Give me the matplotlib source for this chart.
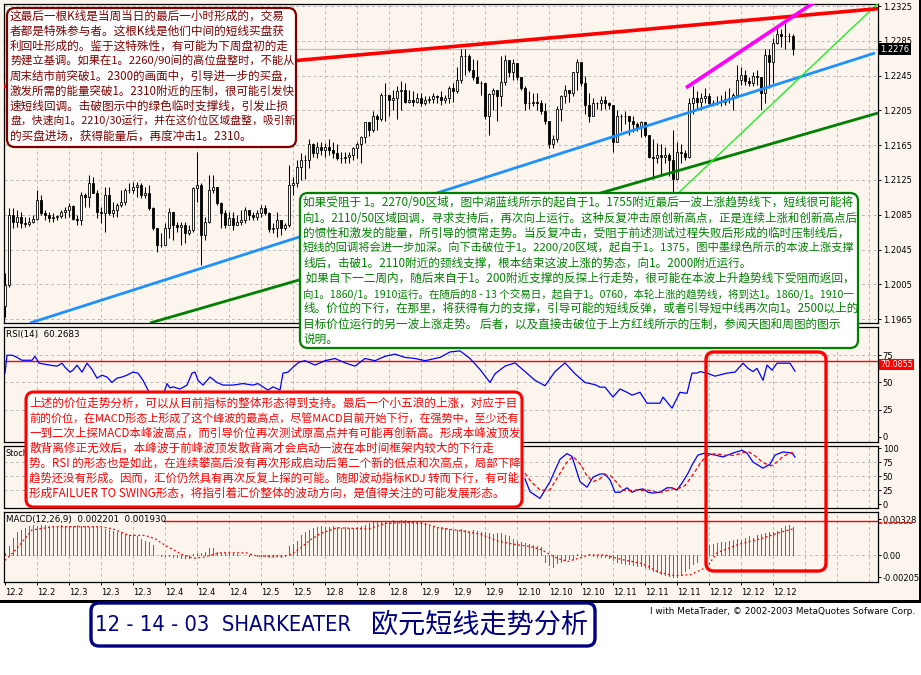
import numpy as np
import matplotlib
matplotlib.use('Agg')
import matplotlib.pyplot as plt
from matplotlib.patches import FancyBboxPatch, Rectangle
from matplotlib import font_manager

# ---------------- data (EURUSD H1) ----------------
open0 = 1.1980
high = [
    1.2018, 1.2093, 1.2093, 1.2090, 1.2088, 1.2082, 1.2082, 1.2085, 1.2113, 1.2108,
    1.2090, 1.2088, 1.2087, 1.2085, 1.2090, 1.2094, 1.2099, 1.2096, 1.2085, 1.2111,
    1.2110, 1.2131, 1.2128, 1.2113, 1.2094, 1.2117, 1.2117, 1.2100, 1.2099, 1.2113,
    1.2116, 1.2122, 1.2123, 1.2123, 1.2122, 1.2117, 1.2119, 1.2094, 1.2070, 1.2064,
    1.2076, 1.2093, 1.2088, 1.2077, 1.2077, 1.2077, 1.2073, 1.2117, 1.2157, 1.2122,
    1.2082, 1.2131, 1.2131, 1.2117, 1.2100, 1.2090, 1.2088, 1.2088, 1.2085, 1.2090,
    1.2094, 1.2090, 1.2088, 1.2090, 1.2096, 1.2096, 1.2088, 1.2076, 1.2088, 1.2079,
    1.2076, 1.2142, 1.2128, 1.2148, 1.2156,
    1.2154, 1.2172, 1.2168, 1.2169, 1.2169, 1.2168, 1.2172, 1.2169, 1.2166, 1.2157,
    1.2157, 1.2157, 1.2163, 1.2169, 1.2175, 1.2192, 1.2189, 1.2204, 1.2201, 1.2225,
    1.2237, 1.2221, 1.2229, 1.2233, 1.2239, 1.2237, 1.2229, 1.2227, 1.2225, 1.2225,
    1.2221, 1.2221, 1.2225, 1.2223,
    1.2227, 1.2223, 1.2233, 1.2237, 1.2255, 1.2275, 1.2276, 1.2270, 1.2264, 1.2263,
    1.2239, 1.2237, 1.2225, 1.2231, 1.2225, 1.2267, 1.2269, 1.2263, 1.2264, 1.2257,
    1.2243, 1.2233, 1.2227, 1.2225, 1.2225, 1.2217, 1.2213, 1.2193, 1.2177, 1.2210,
    1.2223, 1.2234, 1.2229, 1.2249, 1.2264, 1.2252, 1.2245, 1.2225, 1.2219, 1.2215,
    1.2221, 1.2221, 1.2215,
    1.2207, 1.2205, 1.2201, 1.2204, 1.2198, 1.2198, 1.2192, 1.2193, 1.2192, 1.2175,
    1.2172, 1.2168, 1.2166, 1.2163, 1.2156, 1.2183, 1.2169, 1.2166, 1.2160, 1.2219,
    1.2233, 1.2227, 1.2225, 1.2231, 1.2225, 1.2217, 1.2221, 1.2223, 1.2227, 1.2231,
    1.2225, 1.2257, 1.2255, 1.2252, 1.2243, 1.2249, 1.2251, 1.2237, 1.2276, 1.2276,
    1.2288, 1.2302, 1.2299, 1.2306, 1.2294, 1.2293,
]
low = [
    1.1967, 1.2002, 1.2070, 1.2071, 1.2070, 1.2071, 1.2072, 1.2076, 1.2079, 1.2085,
    1.2079, 1.2077, 1.2077, 1.2079, 1.2081, 1.2081, 1.2082, 1.2079, 1.2073, 1.2073,
    1.2094, 1.2094, 1.2110, 1.2081, 1.2076, 1.2065, 1.2085, 1.2082, 1.2082, 1.2094,
    1.2096, 1.2110, 1.2110, 1.2105, 1.2104, 1.2104, 1.2090, 1.2067, 1.2042, 1.2048,
    1.2056, 1.2058, 1.2056, 1.2065, 1.2050, 1.2053, 1.2062, 1.2065, 1.2100, 1.2027,
    1.2056, 1.2076, 1.2110, 1.2096, 1.2070, 1.2070, 1.2077, 1.2067, 1.2073, 1.2073,
    1.2076, 1.2079, 1.2079, 1.2079, 1.2082, 1.2085, 1.2065, 1.2064, 1.2059, 1.2062,
    1.2067, 1.2071, 1.2108, 1.2117, 1.2125,
    1.2126, 1.2139, 1.2151, 1.2150, 1.2154, 1.2151, 1.2154, 1.2150, 1.2148, 1.2145,
    1.2145, 1.2144, 1.2148, 1.2150, 1.2145, 1.2168, 1.2175, 1.2180, 1.2183, 1.2193,
    1.2193, 1.2198, 1.2205, 1.2195, 1.2205, 1.2213, 1.2213, 1.2210, 1.2213, 1.2210,
    1.2211, 1.2213, 1.2213, 1.2213,
    1.2211, 1.2213, 1.2213, 1.2215, 1.2225, 1.2237, 1.2246, 1.2249, 1.2240, 1.2237,
    1.2223, 1.2195, 1.2177, 1.2205, 1.2193, 1.2210, 1.2234, 1.2243, 1.2240, 1.2240,
    1.2229, 1.2205, 1.2207, 1.2210, 1.2205, 1.2201, 1.2189, 1.2162, 1.2162, 1.2169,
    1.2193, 1.2213, 1.2215, 1.2221, 1.2229, 1.2233, 1.2201, 1.2192, 1.2210, 1.2207,
    1.2205, 1.2207, 1.2207,
    1.2157, 1.2186, 1.2181, 1.2189, 1.2177, 1.2180, 1.2181, 1.2174, 1.2174, 1.2150,
    1.2126, 1.2145, 1.2130, 1.2144, 1.2130, 1.2103, 1.2130, 1.2145, 1.2148, 1.2150,
    1.2201, 1.2205, 1.2205, 1.2213, 1.2210, 1.2210, 1.2211, 1.2210, 1.2211, 1.2213,
    1.2205, 1.2223, 1.2234, 1.2234, 1.2233, 1.2233, 1.2234, 1.2205, 1.2213, 1.2231,
    1.2237, 1.2281, 1.2278, 1.2275, 1.2284, 1.2269,
]
close = [
    1.2004, 1.2085, 1.2077, 1.2082, 1.2076, 1.2074, 1.2077, 1.2080, 1.2102, 1.2087,
    1.2085, 1.2081, 1.2082, 1.2084, 1.2088, 1.2090, 1.2095, 1.2080, 1.2079, 1.2108,
    1.2105, 1.2122, 1.2110, 1.2088, 1.2087, 1.2108, 1.2087, 1.2090, 1.2096, 1.2100,
    1.2113, 1.2113, 1.2117, 1.2119, 1.2108, 1.2110, 1.2093, 1.2070, 1.2050, 1.2050,
    1.2070, 1.2088, 1.2073, 1.2071, 1.2073, 1.2064, 1.2067, 1.2116, 1.2119, 1.2062,
    1.2077, 1.2113, 1.2117, 1.2099, 1.2087, 1.2073, 1.2081, 1.2073, 1.2077, 1.2079,
    1.2090, 1.2085, 1.2082, 1.2087, 1.2093, 1.2087, 1.2069, 1.2070, 1.2079, 1.2070,
    1.2073, 1.2119, 1.2122, 1.2140, 1.2148,
    1.2148, 1.2166, 1.2156, 1.2163, 1.2160, 1.2163, 1.2160, 1.2156, 1.2150, 1.2150,
    1.2151, 1.2154, 1.2162, 1.2166, 1.2174, 1.2192, 1.2183, 1.2199, 1.2195, 1.2223,
    1.2223, 1.2217, 1.2219, 1.2227, 1.2229, 1.2215, 1.2217, 1.2215, 1.2219, 1.2213,
    1.2217, 1.2218, 1.2221, 1.2220,
    1.2217, 1.2219, 1.2231, 1.2227, 1.2240, 1.2267, 1.2267, 1.2252, 1.2243, 1.2237,
    1.2237, 1.2198, 1.2224, 1.2229, 1.2221, 1.2238, 1.2263, 1.2249, 1.2259, 1.2243,
    1.2231, 1.2213, 1.2213, 1.2215, 1.2213, 1.2204, 1.2193, 1.2166, 1.2172, 1.2207,
    1.2221, 1.2229, 1.2225, 1.2249, 1.2261, 1.2237, 1.2211, 1.2198, 1.2213, 1.2213,
    1.2217, 1.2213, 1.2211,
    1.2169, 1.2198, 1.2199, 1.2198, 1.2193, 1.2189, 1.2186, 1.2192, 1.2177, 1.2151,
    1.2150, 1.2154, 1.2151, 1.2154, 1.2148, 1.2126, 1.2157, 1.2156, 1.2151, 1.2213,
    1.2219, 1.2215, 1.2219, 1.2221, 1.2213, 1.2213, 1.2215, 1.2215, 1.2218, 1.2219,
    1.2223, 1.2240, 1.2246, 1.2239, 1.2237, 1.2244, 1.2243, 1.2225, 1.2269, 1.2261,
    1.2282, 1.2293, 1.2291, 1.2291, 1.2291, 1.2276,
]
last_price = 1.2276

# trend lines: (bar positions, prices)
red_line = ([-1.25, 220.75], [1.2232, 1.2323])
magenta_line = ([170.25, 203.25], [1.2231, 1.2332])
blue_line = ([6.25, 217.5], [1.19606, 1.2271])
darkgreen_line = ([36.25, 218.25], [1.19606, 1.2202])
lime_line = ([166.5, 218.0], [1.2102, 1.2327])

date_labels = ['12.2', '12.2', '12.3', '12.3', '12.3', '12.4', '12.4', '12.4', '12.5',
               '12.5', '12.8', '12.8', '12.8', '12.9', '12.9', '12.9', '12.10', '12.10',
               '12.10', '12.11', '12.11', '12.11', '12.12', '12.12', '12.12']

rsi_points = [
    (0, 58.6), (0.5, 75), (1.75, 75), (2.5, 74), (4.25, 70.4), (6.75, 70.4), (7.5, 74),
    (8.5, 67.7), (11.25, 65.9), (13, 65), (14.25, 67.7), (15, 64), (16.25, 59.5),
    (17, 61.3), (18, 65.9), (19.25, 59.5), (20.5, 67.7), (21.75, 62), (23, 54),
    (24.25, 56.7), (25.5, 55), (26.75, 50), (28, 54), (29.25, 55), (30.5, 56.7),
    (32, 59.5), (33.25, 58.6), (34.5, 52), (35.75, 43), (37, 37), (38.5, 34), (39.5, 38),
    (40.5, 49), (41.25, 45), (42, 46), (43.75, 44), (45.5, 47.6), (46.75, 58.6),
    (47.5, 59.5), (48.25, 52), (49.5, 47.6), (51.25, 55), (53, 50), (54.5, 47.6),
    (57, 47.6), (59.5, 49), (62, 47.6), (63.25, 49), (64.5, 46), (65.75, 43), (67, 46),
    (68.75, 43), (69.5, 58.6), (70.75, 59.5), (72, 64), (73.5, 68.6), (75, 70),
    (77.5, 66), (80, 70), (82.5, 72), (85, 68), (87.5, 65), (90, 72), (92.5, 70),
    (95, 74), (97.5, 76), (100, 73), (102.5, 72), (105, 70), (108.75, 73), (111.25, 78),
    (113.75, 79), (116.25, 72), (118.75, 62), (121.25, 50), (122.5, 58), (125, 65),
    (127.5, 68), (130, 60), (132.5, 52), (135, 47), (137.5, 60), (140, 68), (142.5, 58),
    (145, 50), (147.5, 48), (148.75, 45.7), (150, 45.7), (152, 36.6), (153.75, 44),
    (155.5, 41), (156.75, 38.4), (158.75, 41), (160.5, 31), (163.75, 31), (164.5, 36.6),
    (166.75, 26.5), (168.75, 41), (170.5, 40), (171.75, 58.6), (173, 58.6), (173.75, 60),
    (175.5, 58.6), (177.5, 55.8), (180.5, 58.6), (182.5, 59.5), (184.5, 67.7),
    (185.75, 63), (187, 60), (188, 63), (189.5, 52), (190.5, 66), (191.75, 61.3),
    (193, 67.7), (196.25, 67.7), (197.5, 60.3),
]
rsi_level = 70.0855

stoch_main = [
    (130, 45), (131.25, 22), (133.75, 10), (136.25, 40), (138.75, 80), (140.5, 90),
    (141.75, 85), (143.75, 40), (145.5, 30), (147, 48), (148.75, 53.6), (150, 53.6),
    (151.25, 43), (152.5, 21), (153.75, 21), (155.5, 29), (156.75, 21), (158, 25),
    (159.5, 27), (160.75, 21), (162, 19.6), (163.75, 21), (165.5, 29), (166.75, 29),
    (168, 25), (169.25, 37.5), (170.75, 55), (172, 73), (173.25, 87.5), (175, 91),
    (177.5, 87.5), (179.5, 84), (182, 91), (184.25, 96), (185.5, 91), (187, 75),
    (189.5, 64), (191.25, 71), (192.5, 87.5), (194.5, 93), (196.75, 91), (197.5, 84),
]
stoch_signal = [
    (130, 55), (131.5, 40), (133.75, 25), (136.25, 25), (138.75, 55), (140.5, 75),
    (142, 85), (144, 70), (145.5, 50), (147, 40), (148.75, 45), (150, 52), (151.5, 50),
    (153, 38), (154.5, 25), (156, 24), (157.5, 25), (159, 24), (160.75, 25), (162.5, 22),
    (164, 21), (165.5, 24), (167, 27), (168.5, 28), (170, 33), (171.25, 45), (172.5, 58),
    (174, 75), (175.5, 86), (177.5, 90), (180, 87), (182.5, 87), (184.5, 92), (186, 93),
    (187.5, 86), (189.5, 74), (191.5, 68), (193, 75), (194.5, 85), (196.5, 92),
    (197.5, 89),
]

macd = [
    0.0002, 0.0008, 0.0016, 0.0021, 0.0023, 0.0025,
    0.0027, 0.0028, 0.0027, 0.0028, 0.0028, 0.0027, 0.0027, 0.0027, 0.0028, 0.0027,
    0.0027, 0.0027, 0.0028, 0.0027, 0.0027, 0.0026, 0.0027,
    0.0026, 0.0025, 0.0024, 0.0023, 0.0022, 0.0021, 0.0020, 0.0019, 0.0018, 0.0018,
    0.0017, 0.0015, 0.0013, 0.0012, 0.0009,
    0.0000, -0.0001, -0.0001, -0.0001, -0.0002, -0.0002, -0.0003, -0.0003, -0.0003,
    0.0001, 0.0002, 0.0002, 0.0003, 0.0006, 0.0006, 0.0003, 0.0002, 0.0002, 0.0002, 0.0002,
    0.0001, 0.0000, 0.0000, -0.0001, 0.0000, -0.0001, -0.0001, -0.0001, -0.0002, -0.0002,
    -0.0001, -0.0002, -0.0001,
    0.0008, 0.0010, 0.0013, 0.0018, 0.0021, 0.0023, 0.0025, 0.0026,
    0.0027, 0.0026, 0.0026, 0.0027, 0.0026, 0.0025, 0.0026, 0.0025, 0.0025, 0.0026,
    0.0027, 0.0028, 0.0029, 0.0030,
    0.0030,
    0.0031, 0.0030, 0.0031, 0.0032, 0.0031, 0.0032, 0.0032, 0.0031, 0.0030, 0.0031,
    0.0030, 0.0029,
    0.0027, 0.0026, 0.0025, 0.0026, 0.0025,
    0.0024, 0.0023, 0.0023, 0.0024, 0.0023, 0.0022, 0.0023, 0.0022, 0.0021, 0.0021,
    0.0020, 0.0019, 0.0020, 0.0020, 0.0018, 0.0017,
    0.0015, 0.0013, 0.0012, 0.0011, 0.0010, 0.0009, 0.0008, 0.0007,
    -0.0006, -0.0009, -0.0011, -0.0007, -0.0006, -0.0005, -0.0004, -0.0004,
    0.0001, 0.0001, 0.0000, 0.0001,
    -0.0001, -0.0002, -0.0002, -0.0002, -0.0003, -0.0005, -0.0006, -0.0007, -0.0008,
    -0.0008, -0.0009, -0.0010, -0.0010,
    -0.0011, -0.0013, -0.0015, -0.0016, -0.0017, -0.0018, -0.0019, -0.0020, -0.0020,
    -0.0018, -0.0015, -0.0012, -0.0008, -0.0006, 0.0000,
    0.0007, 0.0009, 0.0010, 0.0011, 0.0012, 0.0012, 0.0013, 0.0014, 0.0015, 0.0014,
    0.0016, 0.0017, 0.0016, 0.0018, 0.0019, 0.0020, 0.0021, 0.0021, 0.0022, 0.0025,
    0.0027, 0.0028, 0.0026,
]
macd_signal = [
    (0, -0.0005), (2.75, 0.0005), (6.75, 0.0023), (12, 0.0026), (23, 0.0026),
    (24, 0.0026), (27, 0.0024), (31, 0.0018), (35, 0.0018), (37.5, 0.0015), (40, 0.0009),
    (44, 0.0001), (47, -0.0003), (49.6, -0.0002), (53.6, 0.0002), (60.3, 0.0002),
    (63, -0.0001), (69.7, -0.0001), (71.7, 0.0001), (73.7, 0.0006), (76.4, 0.0014),
    (79, 0.0020), (83, 0.0025), (91, 0.0024), (95, 0.0029), (100.5, 0.0030),
    (104.5, 0.0029), (108.5, 0.0025), (114.5, 0.0022), (119, 0.0019), (123, 0.0013),
    (127, 0.0010), (131, 0.0008), (134, 0.0005), (138, -0.0003), (140.7, -0.0006),
    (143.4, -0.0003), (146, 0.0000), (150, 0.0000), (154, -0.0004), (159.5, -0.0008),
    (163.5, -0.0016), (167.5, -0.0019), (171.5, -0.0018), (175.5, -0.0011),
    (178, 0.0002), (183.5, 0.0010), (189, 0.0015), (194, 0.0021), (197, 0.0024),
]
macd_level = 0.0031

box1_lines = [
    "这最后一根K线是当周当日的最后一小时形成的，交易",
    "者都是特殊参与者。这根K线是他们中间的短线买盘获",
    "利回吐形成的。鉴于这特殊性，有可能为下周盘初的走",
    "势建立基调。如果在1。2260/90间的高位盘整时，不能从",
    "周末结市前突破1。2300的画面中，引导进一步的买盘，",
    "激发所需的能量突破1。2310附近的压制，很可能引发快",
    "速短线回调。击破图示中的绿色临时支撑线，引发止损",
    "盘，快速向1。2210/30运行，并在这价位区域盘整，吸引新",
    "的买盘进场，获得能量后，再度冲击1。2310。",
]
box2_lines = [
    "如果受阻于 1。2270/90区域，图中湖蓝线所示的起自于1。1755附近最后一波上涨趋势线下，短线很可能将",
    "向1。2110/50区域回调，寻求支持后，再次向上运行。这种反复冲击原创新高点，正是连续上涨和创新高点后",
    "的惯性和激发的能量，所引导的惯常走势。当反复冲击，受阻于前述测试过程失败后形成的临时压制线后，",
    "短线的回调将会进一步加深。向下击破位于1。2200/20区域，起自于1。1375，图中墨绿色所示的本波上涨支撑",
    "线后，击破1。2110附近的颈线支撑，根本结束这波上涨的势态，向1。2000附近运行。",
    " 如果自下一二周内，随后来自于1。200附近支撑的反探上行走势，很可能在本波上升趋势线下受阻而返回，",
    "向1。1860/1。1910运行。在随后的8 - 13 个交易日，起自于1。0760，本轮上涨的趋势线，将到达1。1860/1。1910一",
    "线。价位的下行，在那里，将获得有力的支撑，引导可能的短线反弹，或者引导短中线再次向1。2500以上的",
    "目标价位运行的另一波上涨走势。 后者，以及直接击破位于上方红线所示的压制，参阅天图和周图的图示",
    "说明。",
]
box3_lines = [
    "上述的价位走势分析，可以从目前指标的整体形态得到支持。最后一个小五浪的上涨，对应于目",
    "前的价位，在MACD形态上形成了这个峰波的最高点，尽管MACD目前开始下行，在强势中，至少还有",
    "一到二次上探MACD本峰波高点，而引导价位再次测试原高点并有可能再创新高。形成本峰波顶发",
    "散背离修正无效后，本峰波于前峰波顶发散背离才会启动一波在本时间框架内较大的下行走",
    "势。RSI 的形态也是如此，在连续攀高后没有再次形成启动后第二个新的低点和次高点，局部下降",
    "趋势还没有形成。因而，汇价仍然具有再次反复上探的可能。随即波动指标KDJ 转而下行，有可能",
    "形成FAILUER TO SWING形态，将指引着汇价整体的波动方向，是值得关注的可能发展形态。",
]
title_left = "12 - 14 - 03  SHARKEATER"
title_right = "欧元短线走势分析"
credit = "l with MetaTrader, © 2002-2003 MetaQuotes Sofware Corp."

# ---------------- figure ----------------
W, H = 921, 675
BG = '#fbf5ee'
GRID = '#b9b9b9'
names = {f.name for f in font_manager.fontManager.ttflist}
narrow = 'Liberation Sans Narrow' if 'Liberation Sans Narrow' in names else None
CJK = ([narrow] if narrow else []) + ['Noto Sans CJK SC', 'DejaVu Sans']

fig = plt.figure(figsize=(W / 100, H / 100), dpi=100)
fig.patch.set_facecolor('white')


def rect(x0, y0, x1, y1):
    return [x0 / W, 1 - y1 / H, (x1 - x0) / W, (y1 - y0) / H]


fig.patches.append(Rectangle((0, 1 - 601 / H), 1, 601 / H, transform=fig.transFigure,
                             fc=BG, ec='none', zorder=-10))
fig.patches.append(Rectangle((0, 1 - 603 / H), 1, 3 / H, transform=fig.transFigure,
                             fc='black', ec='none', zorder=-9))
fig.patches.append(Rectangle((1 - 2 / W, 1 - 603 / H), 2 / W, 603 / H,
                             transform=fig.transFigure, fc='black', ec='none', zorder=-9))

X0, X1 = -0.25, 218.25
ax_p = fig.add_axes(rect(4, 4, 878, 323))
ax_r = fig.add_axes(rect(4, 327, 878, 442))
ax_s = fig.add_axes(rect(4, 446, 878, 508))
ax_m = fig.add_axes(rect(4, 512, 878, 582))

for ax in (ax_p, ax_r, ax_s, ax_m):
    ax.set_facecolor('none')
    ax.set_xlim(X0, X1)
    for sp in ax.spines.values():
        sp.set_color('black')
        sp.set_linewidth(0.9)
    ax.tick_params(axis='y', left=False, labelleft=False, right=True, labelright=True,
                   direction='out', length=2.2, width=0.7, labelsize=6, pad=1.2)
    for k in range(1, 28):
        ax.axvline(8 * k, color=GRID, lw=0.7, ls=(0, (3, 3)), zorder=0)

# price panel
ax_p.set_ylim(1.19606, 1.23273)
pticks = [1.1965 + 0.004 * k for k in range(10)]
ax_p.set_yticks(pticks, ['%.4f' % t for t in pticks])
for t in pticks:
    ax_p.axhline(t, color=GRID, lw=0.7, ls=(0, (3, 3)), zorder=0)
ax_p.set_xticks([])
ax_p.axhline(last_price, color='#c0c0c0', lw=0.9, zorder=1)

x = np.arange(len(close))
c = np.array(close)
o = np.array([open0] + close[:-1])
ax_p.vlines(x, low, high, color='black', lw=0.75, zorder=3)
body_col = ['white' if cc >= oo else 'black' for cc, oo in zip(c, o)]
ax_p.bar(x, np.abs(c - o), bottom=np.minimum(c, o), width=0.7, color=body_col,
         edgecolor='black', linewidth=0.6, zorder=4)

ax_p.plot(*blue_line, color='#1e90ff', lw=2.0, zorder=5, solid_capstyle='butt')
ax_p.plot(*darkgreen_line, color='#008000', lw=2.0, zorder=5, solid_capstyle='butt')
ax_p.plot(*lime_line, color='#22ee22', lw=1.0, zorder=5)
ax_p.plot(*red_line, color='#ff0000', lw=2.6, zorder=5, solid_capstyle='butt')
ax_p.plot(*magenta_line, color='#ff00ff', lw=2.6, zorder=5, solid_capstyle='butt')

# RSI panel
ax_r.set_ylim(-4.6, 100.9)
ax_r.set_yticks([0, 25, 50, 75])
ax_r.set_xticks([])
for lv in (25, 50, 75):
    ax_r.axhline(lv, color=GRID, lw=0.7, ls=(0, (3, 3)), zorder=0)
ax_r.axhline(rsi_level, color='#ff0000', lw=1.0, zorder=2)
rp, rv = zip(*rsi_points)
ax_r.plot(rp, rv, color='#0000ff', lw=0.9, zorder=3)

# Stochastic panel
ax_s.set_ylim(-7.1, 103.6)
ax_s.set_yticks([0, 25, 50, 75, 100])
ax_s.set_xticks([])
for lv in (25, 50, 75):
    ax_s.axhline(lv, color=GRID, lw=0.7, ls=(0, (3, 3)), zorder=0)
sp_, sv_ = zip(*stoch_main)
ax_s.plot(sp_, sv_, color='#0000ff', lw=0.9, zorder=3)
gp, gv = zip(*stoch_signal)
ax_s.plot(gp, gv, color='#ff0000', lw=0.9, ls=(0, (3, 2)), zorder=3)

# MACD panel
ax_m.set_ylim(-0.00248, 0.00395)
ax_m.set_yticks([-0.00205, 0, 0.00328], ['-0.00205', '0.00', '0.00328'])
ax_m.axhline(0, color=GRID, lw=0.7, ls=(0, (3, 3)), zorder=0)
ax_m.vlines(np.arange(len(macd)), 0, macd, color='#ff00ff', lw=0.5, zorder=2,
            antialiased=False)
mp, mv = zip(*macd_signal)
ax_m.plot(mp, mv, color='#ff0000', lw=0.9, ls=(0, (1.5, 2)), zorder=3)
ax_m.hlines(macd_level, 39.5, X1, color='#ff0000', lw=1.0, zorder=2)
ax_m.set_xticks([8 * k for k in range(len(date_labels))], date_labels)
ax_m.tick_params(axis='x', direction='out', length=2.5, width=0.7, labelsize=6, pad=1.5)
for lbl in ax_m.get_xticklabels():
    lbl.set_ha('left')

# panel captions
ax_r.text(0.002, 0.97, 'RSI(14)  60.2683', transform=ax_r.transAxes, fontsize=6.3,
          va='top', ha='left', zorder=6)
ax_s.text(0.002, 0.95, 'Stoch', transform=ax_s.transAxes,
          fontsize=5.8, va='top', ha='left', zorder=6)
ax_m.text(0.002, 0.96, 'MACD(12,26,9)  0.002201  0.001930', transform=ax_m.transAxes,
          fontsize=6.3, va='top', ha='left', zorder=6)

# ---------------- overlay: notes, price tags, title ----------------
ov = fig.add_axes([0, 0, 1, 1], zorder=10)
ov.set_xlim(0, W)
ov.set_ylim(H, 0)
ov.axis('off')
renderer = fig.canvas.get_renderer()

ov.text(880, 49, '%.4f' % last_price, color='white', fontsize=6, va='center', ha='left',
        bbox=dict(fc='black', ec='none', pad=1.2), zorder=4)
ov.text(880, 364.5, '%.4f' % rsi_level, color='white', fontsize=5.8, va='center', ha='left',
        bbox=dict(fc='#ff0000', ec='none', pad=0.6), zorder=4)
ov.plot([879, 913], [523, 523], color='#ff0000', lw=1.2, ls=(0, (2, 1)), zorder=4)


def put_line(xp, yp, s, color, size, maxw, family, exact=False, ha='left', **kw):
    t = ov.text(xp, yp, s, color=color, fontsize=size, family=family, ha=ha,
                va='center', zorder=6, **kw)
    w = t.get_window_extent(renderer=renderer).width
    if exact or w > maxw:
        t.set_fontsize(size * maxw / w)
    return t


def note_box(x0, y0, x1, y1, ec, lw, fc='white'):
    ov.add_patch(FancyBboxPatch((x0, y0), x1 - x0, y1 - y0,
                                boxstyle='round,pad=0,rounding_size=8',
                                fc=fc, ec=ec, lw=lw, zorder=5))


note_box(7, 8, 296, 147, '#800000', 1.6)
for i, s in enumerate(box1_lines):
    put_line(10, 16 + 15 * i, s, '#800000', 8.4, 284, CJK)

note_box(300, 193, 858, 348, '#008000', 1.6)
for i, s in enumerate(box2_lines):
    put_line(303, 203 + 15.1 * i, s, '#008000', 8.4, 551, CJK)

note_box(26, 392, 522, 507, '#ff0000', 2.2)
for i, s in enumerate(box3_lines):
    put_line(29, 403 + 15 * i, s, '#ff0000', 8.4, 490, CJK)

note_box(706, 352, 826, 571, '#ff0000', 2.4, fc='none')

note_box(91, 603, 595, 646, '#000080', 2.4)
put_line(95, 625, title_left, '#000080', 18, 257, ['DejaVu Sans'], exact=True,
         fontstretch='condensed')
put_line(371, 625, title_right, '#000080', 18, 217, CJK, exact=True)

put_line(650, 612, credit, 'black', 6.5, 266, ['DejaVu Sans'], exact=True)

fig.savefig('out.png', dpi=100, facecolor='white')
